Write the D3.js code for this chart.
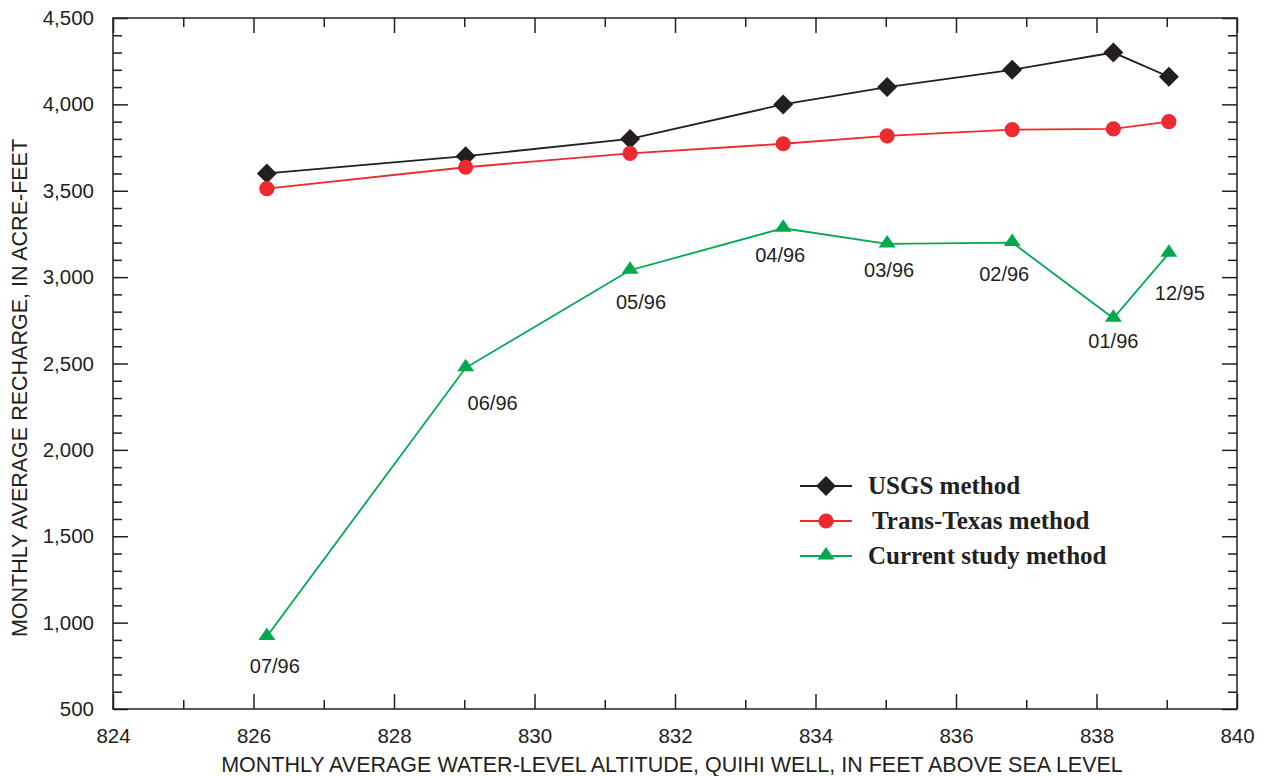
<!DOCTYPE html>
<html>
<head>
<meta charset="utf-8">
<script src="https://cdn.jsdelivr.net/npm/d3@7"></script>
<style>
  body { margin: 0; background: #fff; }
  .tick text { font-family: "Liberation Sans", Arial, sans-serif; }
</style>
</head>
<body>
<div class="chart"></div>
<script>
// water-level altitude (x) for each month
const altitude = [826.19, 829.02, 831.36, 833.54, 835.02, 836.80, 838.24, 839.03];
const months = ["07/96", "06/96", "05/96", "04/96", "03/96", "02/96", "01/96", "12/95"];
const usgs = [3600, 3700, 3800, 4000, 4100, 4200, 4300, 4160];
const transTexas = [3512, 3636, 3716, 3772, 3818, 3854, 3858, 3900];
const currentStudy = [920, 2475, 3040, 3283, 3192, 3200, 2762, 3138];
const xTicks = [824, 826, 828, 830, 832, 834, 836, 838, 840];
const yTicks = [500, 1000, 1500, 2000, 2500, 3000, 3500, 4000, 4500];

// label offsets (px) for month labels under the green line
const labelOffset = [[8, 37], [27, 42], [11, 39], [-3, 34], [2, 33], [-8, 38], [0, 30], [11, 47]];

const margin = ({top: 18, right: 29, bottom: 67, left: 113});
const width = 1266 - margin.left - margin.right,
      height = 776 - margin.top - margin.bottom;

const svg = d3.select(".chart").append("svg")
    .attr("width", 1266)
    .attr("height", 776)
  .append("g")
    .attr("transform", "translate(" + margin.left + "," + margin.top + ")");

const xScale = d3.scaleLinear().domain([824, 840]).range([0, width]);
const yScale = d3.scaleLinear().domain([500, 4500]).range([height, 0]);

const black = "#231f20", red = "#ed2a2f", green = "#00a94f";

// frame
svg.append("rect")
    .attr("width", width).attr("height", height)
    .attr("fill", "none").attr("stroke", black).attr("stroke-width", 1.5);

// minor ticks (inward) on all four sides
const xMinor = d3.range(825, 840, 2);
const yMinor = d3.range(600, 4500, 100).filter(v => v % 500 != 0);

function tickAxis(axis, major, minor, transform) {
  const g = svg.append("g").attr("transform", transform);
  g.call(axis.tickValues(major).tickSizeInner(-15).tickSizeOuter(0).tickFormat(""));
  const g2 = svg.append("g").attr("transform", transform);
  g2.call(axis.tickValues(minor).tickSizeInner(-9).tickSizeOuter(0).tickFormat(""));
  [g, g2].forEach(s => {
    s.select(".domain").remove();
    s.selectAll("line").attr("stroke", black).attr("stroke-width", 1.5);
  });
}
tickAxis(d3.axisBottom(xScale), xTicks, xMinor, "translate(0," + height + ")");
tickAxis(d3.axisTop(xScale), xTicks, xMinor, "translate(0,0)");
tickAxis(d3.axisLeft(yScale), yTicks, yMinor, "translate(0,0)");
tickAxis(d3.axisRight(yScale), yTicks, yMinor, "translate(" + width + ",0)");

// tick labels
const xAxis = svg.append("g")
    .attr("transform", "translate(0," + height + ")")
    .call(d3.axisBottom(xScale).tickValues(xTicks).tickSize(0).tickPadding(19));
xAxis.select(".domain").remove();
xAxis.selectAll("text").attr("font-size", 20.5).attr("fill", black);

const yAxis = svg.append("g")
    .call(d3.axisLeft(yScale).tickValues(yTicks).tickSize(0).tickPadding(19).tickFormat(d3.format(",")));
yAxis.select(".domain").remove();
yAxis.selectAll("text").attr("font-size", 20.5).attr("fill", black);

// axis titles
svg.append("text")
    .attr("x", (217 + 1127) / 2 - margin.left)
    .attr("y", height + 63)
    .attr("text-anchor", "middle")
    .attr("font-family", "Liberation Sans, Arial, sans-serif")
    .attr("font-size", 21.5)
    .attr("fill", black)
    .text("MONTHLY AVERAGE WATER-LEVEL ALTITUDE, QUIHI WELL, IN FEET ABOVE SEA LEVEL");

svg.append("text")
    .attr("transform", "rotate(-90)")
    .attr("x", -(388 - margin.top))
    .attr("y", -86)
    .attr("text-anchor", "middle")
    .attr("font-family", "Liberation Sans, Arial, sans-serif")
    .attr("font-size", 21.5)
    .attr("fill", black)
    .text("MONTHLY AVERAGE RECHARGE, IN ACRE-FEET");

// marker shapes
const diamond = "M0,-10L10,0L0,10L-10,0Z";
const triangle = "M0,-9L8.5,3.5L-8.5,3.5Z";

// series
const series = [
  {name: "USGS method", values: usgs, color: black, marker: diamond},
  {name: "Trans-Texas method", values: transTexas, color: red, marker: d3.symbol().type(d3.symbolCircle).size(180)()},
  {name: "Current study method", values: currentStudy, color: green, marker: triangle}
];

const line = d3.line()
    .x(d => xScale(d[0]))
    .y(d => yScale(d[1]));

series.forEach(s => {
  const pts = altitude.map((a, i) => [a, s.values[i]]);
  svg.append("path")
      .datum(pts)
      .attr("d", line)
      .attr("fill", "none")
      .attr("stroke", s.color)
      .attr("stroke-width", 1.8);
  svg.selectAll(null)
      .data(pts)
      .enter().append("path")
      .attr("d", s.marker)
      .attr("transform", d => "translate(" + xScale(d[0]) + "," + yScale(d[1]) + ")")
      .attr("fill", s.color);
});

// month labels
svg.selectAll(".mlabel")
    .data(months)
    .enter().append("text")
    .attr("class", "mlabel")
    .attr("x", (d, i) => xScale(altitude[i]) + labelOffset[i][0])
    .attr("y", (d, i) => yScale(currentStudy[i]) + labelOffset[i][1])
    .attr("text-anchor", "middle")
    .attr("font-family", "Liberation Sans, Arial, sans-serif")
    .attr("font-size", 20)
    .attr("fill", black)
    .text(d => d);

// legend
const legend = svg.append("g").attr("transform", "translate(" + (800 - margin.left) + "," + (486 - margin.top) + ")");
series.forEach((s, i) => {
  const g = legend.append("g").attr("transform", "translate(0," + (i * 35) + ")");
  g.append("line").attr("x1", 0).attr("x2", 52).attr("stroke", s.color).attr("stroke-width", 1.8);
  g.append("path")
      .attr("d", s.marker)
      .attr("transform", "translate(26,0)")
      .attr("fill", s.color);
  g.append("text")
      .attr("x", i == 1 ? 72 : 68)
      .attr("y", 8)
      .attr("font-family", "Liberation Serif, serif")
      .attr("font-weight", "bold")
      .attr("font-size", 25)
      .attr("fill", black)
      .text(s.name);
});
</script>
</body>
</html>
